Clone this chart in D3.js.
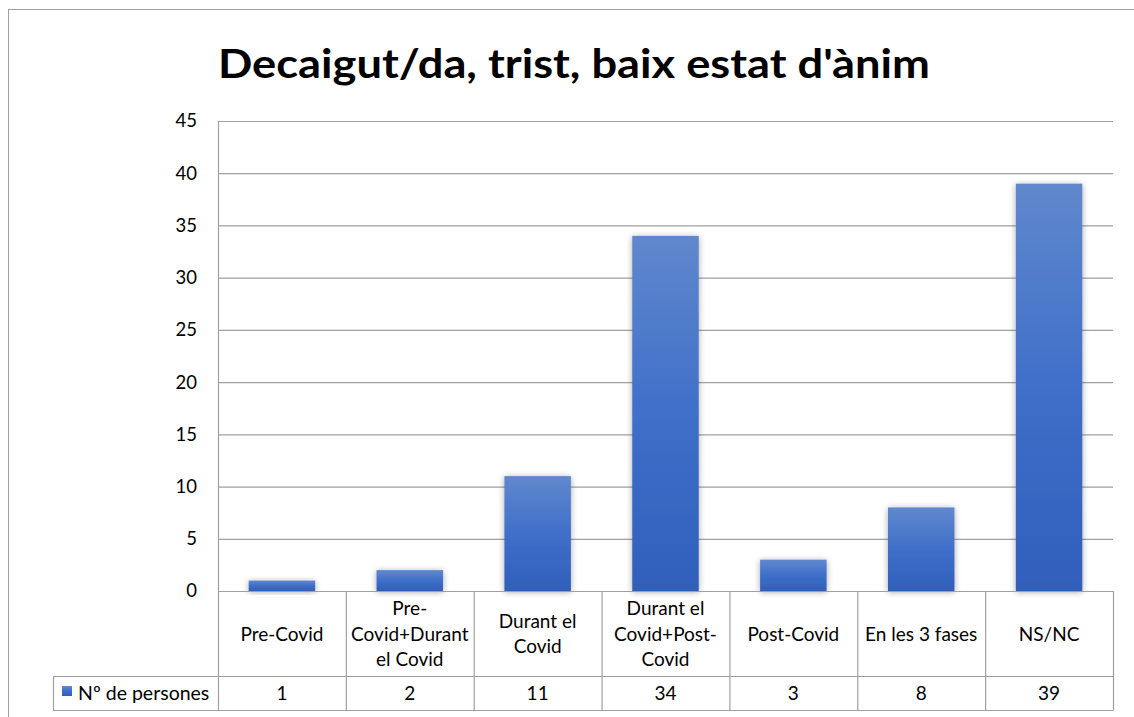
<!DOCTYPE html>
<html><head><meta charset="utf-8">
<script src="https://cdn.jsdelivr.net/npm/d3@7"></script>
<style>body{margin:0;background:#fff}svg{display:block}</style>
</head><body>
<script>
const title = "Decaigut/da, trist, baix estat d'ànim";
const categories = [["Pre-Covid"],["Pre-","Covid+Durant","el Covid"],["Durant el","Covid"],["Durant el","Covid+Post-","Covid"],["Post-Covid"],["En les 3 fases"],["NS/NC"]];
const values = [1, 2, 11, 34, 3, 8, 39];
const seriesName = "Nº de persones";
const yTicks = [0,5,10,15,20,25,30,35,40,45];

(function(){
const W = 1134, H = 717;
const font = "Lato, 'Open Sans', sans-serif";
const svg = d3.select("body").append("svg").attr("width", W).attr("height", H);
const defs = svg.append("defs");
const grad = defs.append("linearGradient").attr("id","barGrad").attr("x1",0).attr("y1",0).attr("x2",0).attr("y2",1);
grad.append("stop").attr("offset","0%").attr("stop-color","#6088cd");
grad.append("stop").attr("offset","50%").attr("stop-color","#3f6fc9");
grad.append("stop").attr("offset","100%").attr("stop-color","#2f5fbb");
const f = defs.append("filter").attr("id","shadow").attr("x","-30%").attr("y","-30%").attr("width","160%").attr("height","160%");
f.append("feDropShadow").attr("dx",0).attr("dy",1).attr("stdDeviation",3).attr("flood-color","#000").attr("flood-opacity",0.35);

svg.append("rect").attr("x",8.5).attr("y",9.5).attr("width",1140).attr("height",720)
  .attr("fill","#fff").attr("stroke","#a0a0a0").attr("stroke-width",1);

const pLeft = 218, pRight = 1113, pTop = 121, pBottom = 591;
const row1 = 676, row2 = 710, legendLeft = 53;
const x = d3.scaleBand().domain(d3.range(values.length)).range([pLeft, pRight]).paddingInner(0.48).paddingOuter(0.24);
const xCell = d3.scaleBand().domain(d3.range(values.length)).range([pLeft, pRight]);
const y = d3.scaleLinear().domain([0,45]).range([pBottom, pTop]);
const grid = "#a0a0a0";

svg.append("g").selectAll("line").data(yTicks).join("line")
  .attr("x1", pLeft).attr("x2", pRight)
  .attr("y1", d=>y(d)+0.5).attr("y2", d=>y(d)+0.5)
  .attr("stroke", grid).attr("stroke-width",1.2);

const yAxis = d3.axisLeft(y).tickValues(yTicks).tickSize(0).tickPadding(21);
const ya = svg.append("g").attr("transform",`translate(${pLeft},0)`).call(yAxis);
ya.select(".domain").remove();
ya.selectAll("text").attr("font-family",font).attr("font-size",18.5).attr("fill","#000");

svg.append("g").selectAll("rect").data(values).join("rect")
  .attr("x",(d,i)=>x(i)).attr("width",x.bandwidth())
  .attr("y",d=>y(d)).attr("height",d=>y(0)-y(d))
  .attr("fill","url(#barGrad)").attr("filter","url(#shadow)");

const tg = svg.append("g").attr("stroke",grid).attr("stroke-width",1.2);
tg.append("line").attr("x1",pLeft+0.5).attr("x2",pLeft+0.5).attr("y1",pTop).attr("y2",row2);
d3.range(1, values.length+1).forEach(i=>{
  const xx = (i===values.length? pRight : xCell(i)) + 0.5;
  tg.append("line").attr("x1",xx).attr("x2",xx).attr("y1",pBottom).attr("y2",row2);
});
tg.append("line").attr("x1",pLeft).attr("x2",pRight).attr("y1",pBottom+0.5).attr("y2",pBottom+0.5);
tg.append("line").attr("x1",legendLeft).attr("x2",pRight).attr("y1",row1+0.5).attr("y2",row1+0.5);
tg.append("line").attr("x1",legendLeft).attr("x2",pRight+0.5).attr("y1",row2+0.5).attr("y2",row2+0.5);
tg.append("line").attr("x1",legendLeft+0.5).attr("x2",legendLeft+0.5).attr("y1",row1).attr("y2",row2);

const lh = 25.5;
categories.forEach((lines,i)=>{
  const cx = xCell(i) + xCell.bandwidth()/2;
  const cy = (pBottom+row1)/2;
  const t = svg.append("text").attr("font-family",font).attr("font-size",19).attr("text-anchor","middle").attr("fill","#000");
  lines.forEach((s,j)=>{
    t.append("tspan").attr("x",cx).attr("y", cy + (j-(lines.length-1)/2)*lh + 7).text(s);
  });
});
svg.append("g").selectAll("text").data(values).join("text")
  .attr("x",(d,i)=>xCell(i)+xCell.bandwidth()/2).attr("y",(row1+row2)/2+6.5)
  .attr("text-anchor","middle").attr("font-family",font).attr("font-size",19).text(d=>d);
svg.append("rect").attr("x",62).attr("y",686).attr("width",10).attr("height",10).attr("fill","url(#barGrad)");
svg.append("text").attr("x",78).attr("y",(row1+row2)/2+6.5).attr("font-family",font).attr("font-size",19.5).text(seriesName);

svg.append("text").attr("x",574).attr("y",78).attr("text-anchor","middle")
  .attr("font-family",font).attr("font-weight","bold").attr("font-size",41)
  .attr("textLength",712).attr("lengthAdjust","spacingAndGlyphs").text(title);
})();
</script>
</body></html>
